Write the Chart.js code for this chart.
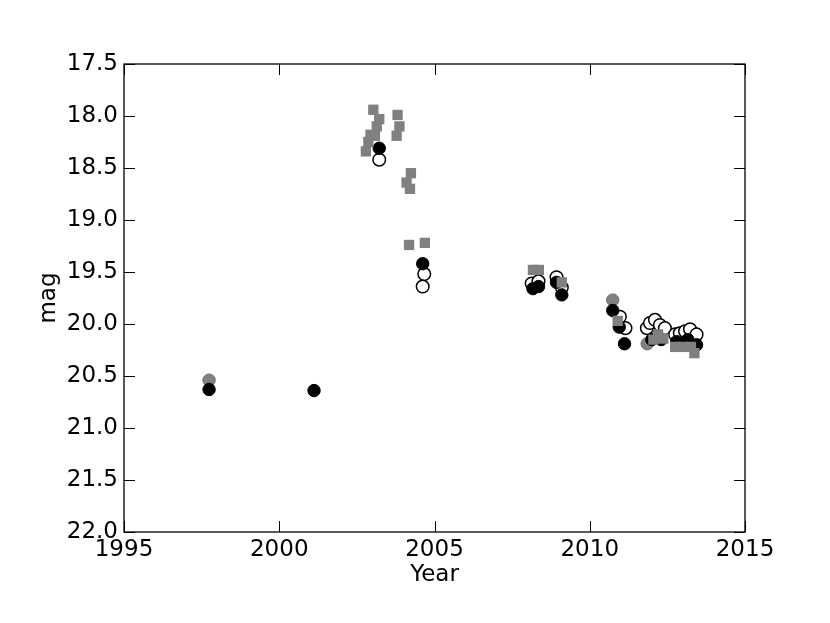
<!DOCTYPE html>
<html>
<head>
<meta charset="utf-8">
<script src="https://cdn.jsdelivr.net/npm/chart.js@4.4.0/dist/chart.umd.min.js"></script>
<style>
  html, body { margin: 0; padding: 0; background: #fff; }
  #wrap { width: 830px; height: 623px; }
</style>
</head>
<body>
<div id="wrap"><canvas id="magChart"></canvas></div>
<script>
// axis ticks
const xTicks = [1995, 2000, 2005, 2010, 2015];
const yTicks = [17.5, 18.0, 18.5, 19.0, 19.5, 20.0, 20.5, 21.0, 21.5, 22.0];

// grey squares
const sqYear = [2002.79, 2002.87, 2002.94, 2003.03, 2003.08, 2003.14, 2003.22, 2003.78, 2003.81, 2003.87,
                2004.10, 2004.21, 2004.24, 2004.18, 2004.69, 2008.17, 2008.36, 2009.10, 2010.90,
                2012.05, 2012.20, 2012.37, 2012.75, 2013.00, 2013.26, 2013.37];
const sqMag = [18.34, 18.25, 18.18, 17.94, 18.19, 18.10, 18.03, 18.19, 17.99, 18.10,
               18.64, 18.70, 18.55, 19.24, 19.22, 19.48, 19.48, 19.60, 19.97,
               20.15, 20.10, 20.14, 20.22, 20.22, 20.22, 20.28];

// black filled circles
const blackYear = [1997.74, 2001.12, 2003.22, 2004.62, 2008.17, 2008.35, 2008.93, 2009.10, 2010.74, 2010.95,
                   2011.12, 2012.00, 2012.30, 2012.80, 2013.16, 2013.44];
const blackMag = [20.63, 20.64, 18.31, 19.42, 19.66, 19.64, 19.60, 19.72, 19.87, 20.03,
                  20.19, 20.15, 20.15, 20.17, 20.15, 20.20];

// grey filled circles
const greyYear = [1997.74, 2010.74, 2011.85];
const greyMag = [20.54, 19.77, 20.19];

// open circles
const openYear = [2003.22, 2004.67, 2004.62, 2008.13, 2008.35, 2008.93, 2009.10, 2010.97, 2011.15, 2011.84,
                  2011.94, 2012.10, 2012.26, 2012.42, 2012.75, 2012.90, 2013.07, 2013.23, 2013.44];
const openMag = [18.42, 19.52, 19.64, 19.61, 19.59, 19.55, 19.65, 19.93, 20.04, 20.04,
                 19.99, 19.96, 20.01, 20.04, 20.10, 20.09, 20.07, 20.05, 20.10];

const pts = (xs, ys) => xs.map((v, i) => ({ x: v, y: ys[i] }));
const font = { family: 'DejaVu Sans', size: 23 };

// frame plus inward ticks on all four sides
const frameTicks = {
    id: 'frameTicks',
    afterDatasetsDraw(chart) {
        const { ctx, chartArea: a, scales: { x, y } } = chart;
        const len = 11;
        ctx.save();
        ctx.strokeStyle = '#000';
        ctx.lineWidth = 1;
        ctx.beginPath();
        xTicks.forEach(v => {
            const px = Math.round(x.getPixelForValue(v)) + 0.5;
            ctx.moveTo(px, a.bottom); ctx.lineTo(px, a.bottom - len);
            ctx.moveTo(px, a.top); ctx.lineTo(px, a.top + len);
        });
        yTicks.forEach(v => {
            const py = Math.round(y.getPixelForValue(v)) + 0.5;
            ctx.moveTo(a.left, py); ctx.lineTo(a.left + len, py);
            ctx.moveTo(a.right, py); ctx.lineTo(a.right - len, py);
        });
        ctx.stroke();
        ctx.lineWidth = 1.3;
        ctx.strokeRect(a.left, a.top, a.right - a.left, a.bottom - a.top);
        ctx.restore();
    }
};

new Chart(document.getElementById('magChart'), {
    type: 'scatter',
    data: {
        datasets: [
            {
                label: 'squares',
                data: pts(sqYear, sqMag),
                pointStyle: 'rect',
                pointRadius: 7.3,
                borderWidth: 0,
                backgroundColor: '#808080',
                borderColor: '#808080'
            },
            {
                label: 'black',
                data: pts(blackYear, blackMag),
                pointStyle: 'circle',
                pointRadius: 6.2,
                borderWidth: 1,
                backgroundColor: '#000',
                borderColor: '#000'
            },
            {
                label: 'grey',
                data: pts(greyYear, greyMag),
                pointStyle: 'circle',
                pointRadius: 6.2,
                borderWidth: 1,
                backgroundColor: '#808080',
                borderColor: '#707070'
            },
            {
                label: 'open',
                data: pts(openYear, openMag),
                pointStyle: 'circle',
                pointRadius: 6.3,
                borderWidth: 1.5,
                backgroundColor: '#fff',
                borderColor: '#000'
            }
        ]
    },
    options: {
        responsive: true,
        maintainAspectRatio: false,
        animation: false,
        layout: { padding: { top: 64, right: 85, left: 0, bottom: 0 } },
        plugins: { legend: { display: false }, tooltip: { enabled: false } },
        scales: {
            x: {
                type: 'linear',
                min: 1995,
                max: 2015,
                afterBuildTicks: s => { s.ticks = xTicks.map(v => ({ value: v })); },
                afterFit: s => { s.height = 91; },
                grid: { display: false, drawTicks: false },
                border: { display: false },
                ticks: { color: '#000', font: font, padding: 4, maxRotation: 0, callback: v => String(v) },
                title: { display: true, text: 'Year', color: '#000', font: font, padding: { top: 0, bottom: 34 } }
            },
            y: {
                type: 'linear',
                reverse: true,
                min: 17.5,
                max: 22,
                afterBuildTicks: s => { s.ticks = yTicks.map(v => ({ value: v })); },
                afterFit: s => { s.width = 124; },
                grid: { display: false, drawTicks: false },
                border: { display: false },
                ticks: { color: '#000', font: font, padding: 6, callback: v => v.toFixed(1) },
                title: { display: true, text: 'mag', color: '#000', font: font, padding: { top: 35, bottom: 0 } }
            }
        }
    },
    plugins: [frameTicks]
});
</script>
</body>
</html>
